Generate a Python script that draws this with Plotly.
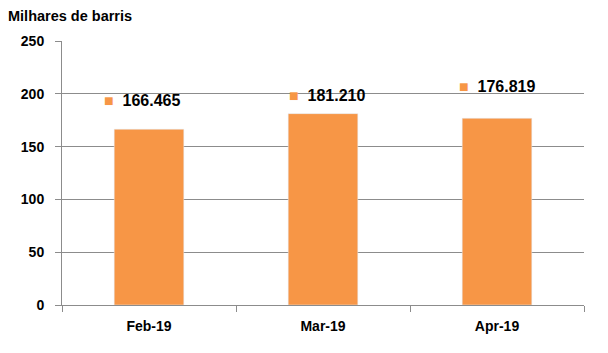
import plotly.graph_objects as go

categories = ["Feb-19", "Mar-19", "Apr-19"]
values = [166.465, 181.210, 176.819]
value_labels = ["166.465", "181.210", "176.819"]

BAR = "#F79646"
fig = go.Figure()
fig.add_trace(go.Bar(x=categories, y=values, marker_color=BAR, width=0.4, showlegend=False))

label_y = [194, 198, 206.5]
label_shift = [-7, 4, 0]
for c, v, ly, xs in zip(categories, value_labels, label_y, label_shift):
    fig.add_annotation(x=c, y=ly, xshift=xs, showarrow=False,
                       text=f"<span style='color:{BAR}'>■</span>&nbsp; {v}",
                       font=dict(family="Liberation Sans, Arial", size=16, color="black", weight="bold"))

fig.add_annotation(
    text="<b>Milhares de barris</b>", xref="paper", yref="paper",
    x=-0.107, y=1.0, yshift=15, xanchor="left", yanchor="bottom", showarrow=False,
    font=dict(size=14.5, color="black", family="Liberation Sans, Arial"))

fig.update_layout(
    width=608, height=353,
    margin=dict(l=62, r=24, t=41, b=48),
    plot_bgcolor="white", paper_bgcolor="white",
    font=dict(family="Liberation Sans, Arial", color="black"),
)
fig.update_yaxes(range=[0, 250], dtick=50, showgrid=True, gridcolor="#8c8c8c", gridwidth=1,
                 showline=True, linecolor="#8c8c8c", ticks="outside", ticklen=6, tickcolor="#8c8c8c",
                 ticklabelstandoff=8,
                 tickfont=dict(size=14, family="Liberation Sans, Arial", weight="bold"), zeroline=False)
fig.update_xaxes(showline=True, linecolor="#8c8c8c", ticks="outside", tickson="boundaries",
                 ticklen=6, tickcolor="#8c8c8c", ticklabelstandoff=8,
                 tickfont=dict(size=14, family="Liberation Sans, Arial", weight="bold"))
fig.write_html("out.html")
